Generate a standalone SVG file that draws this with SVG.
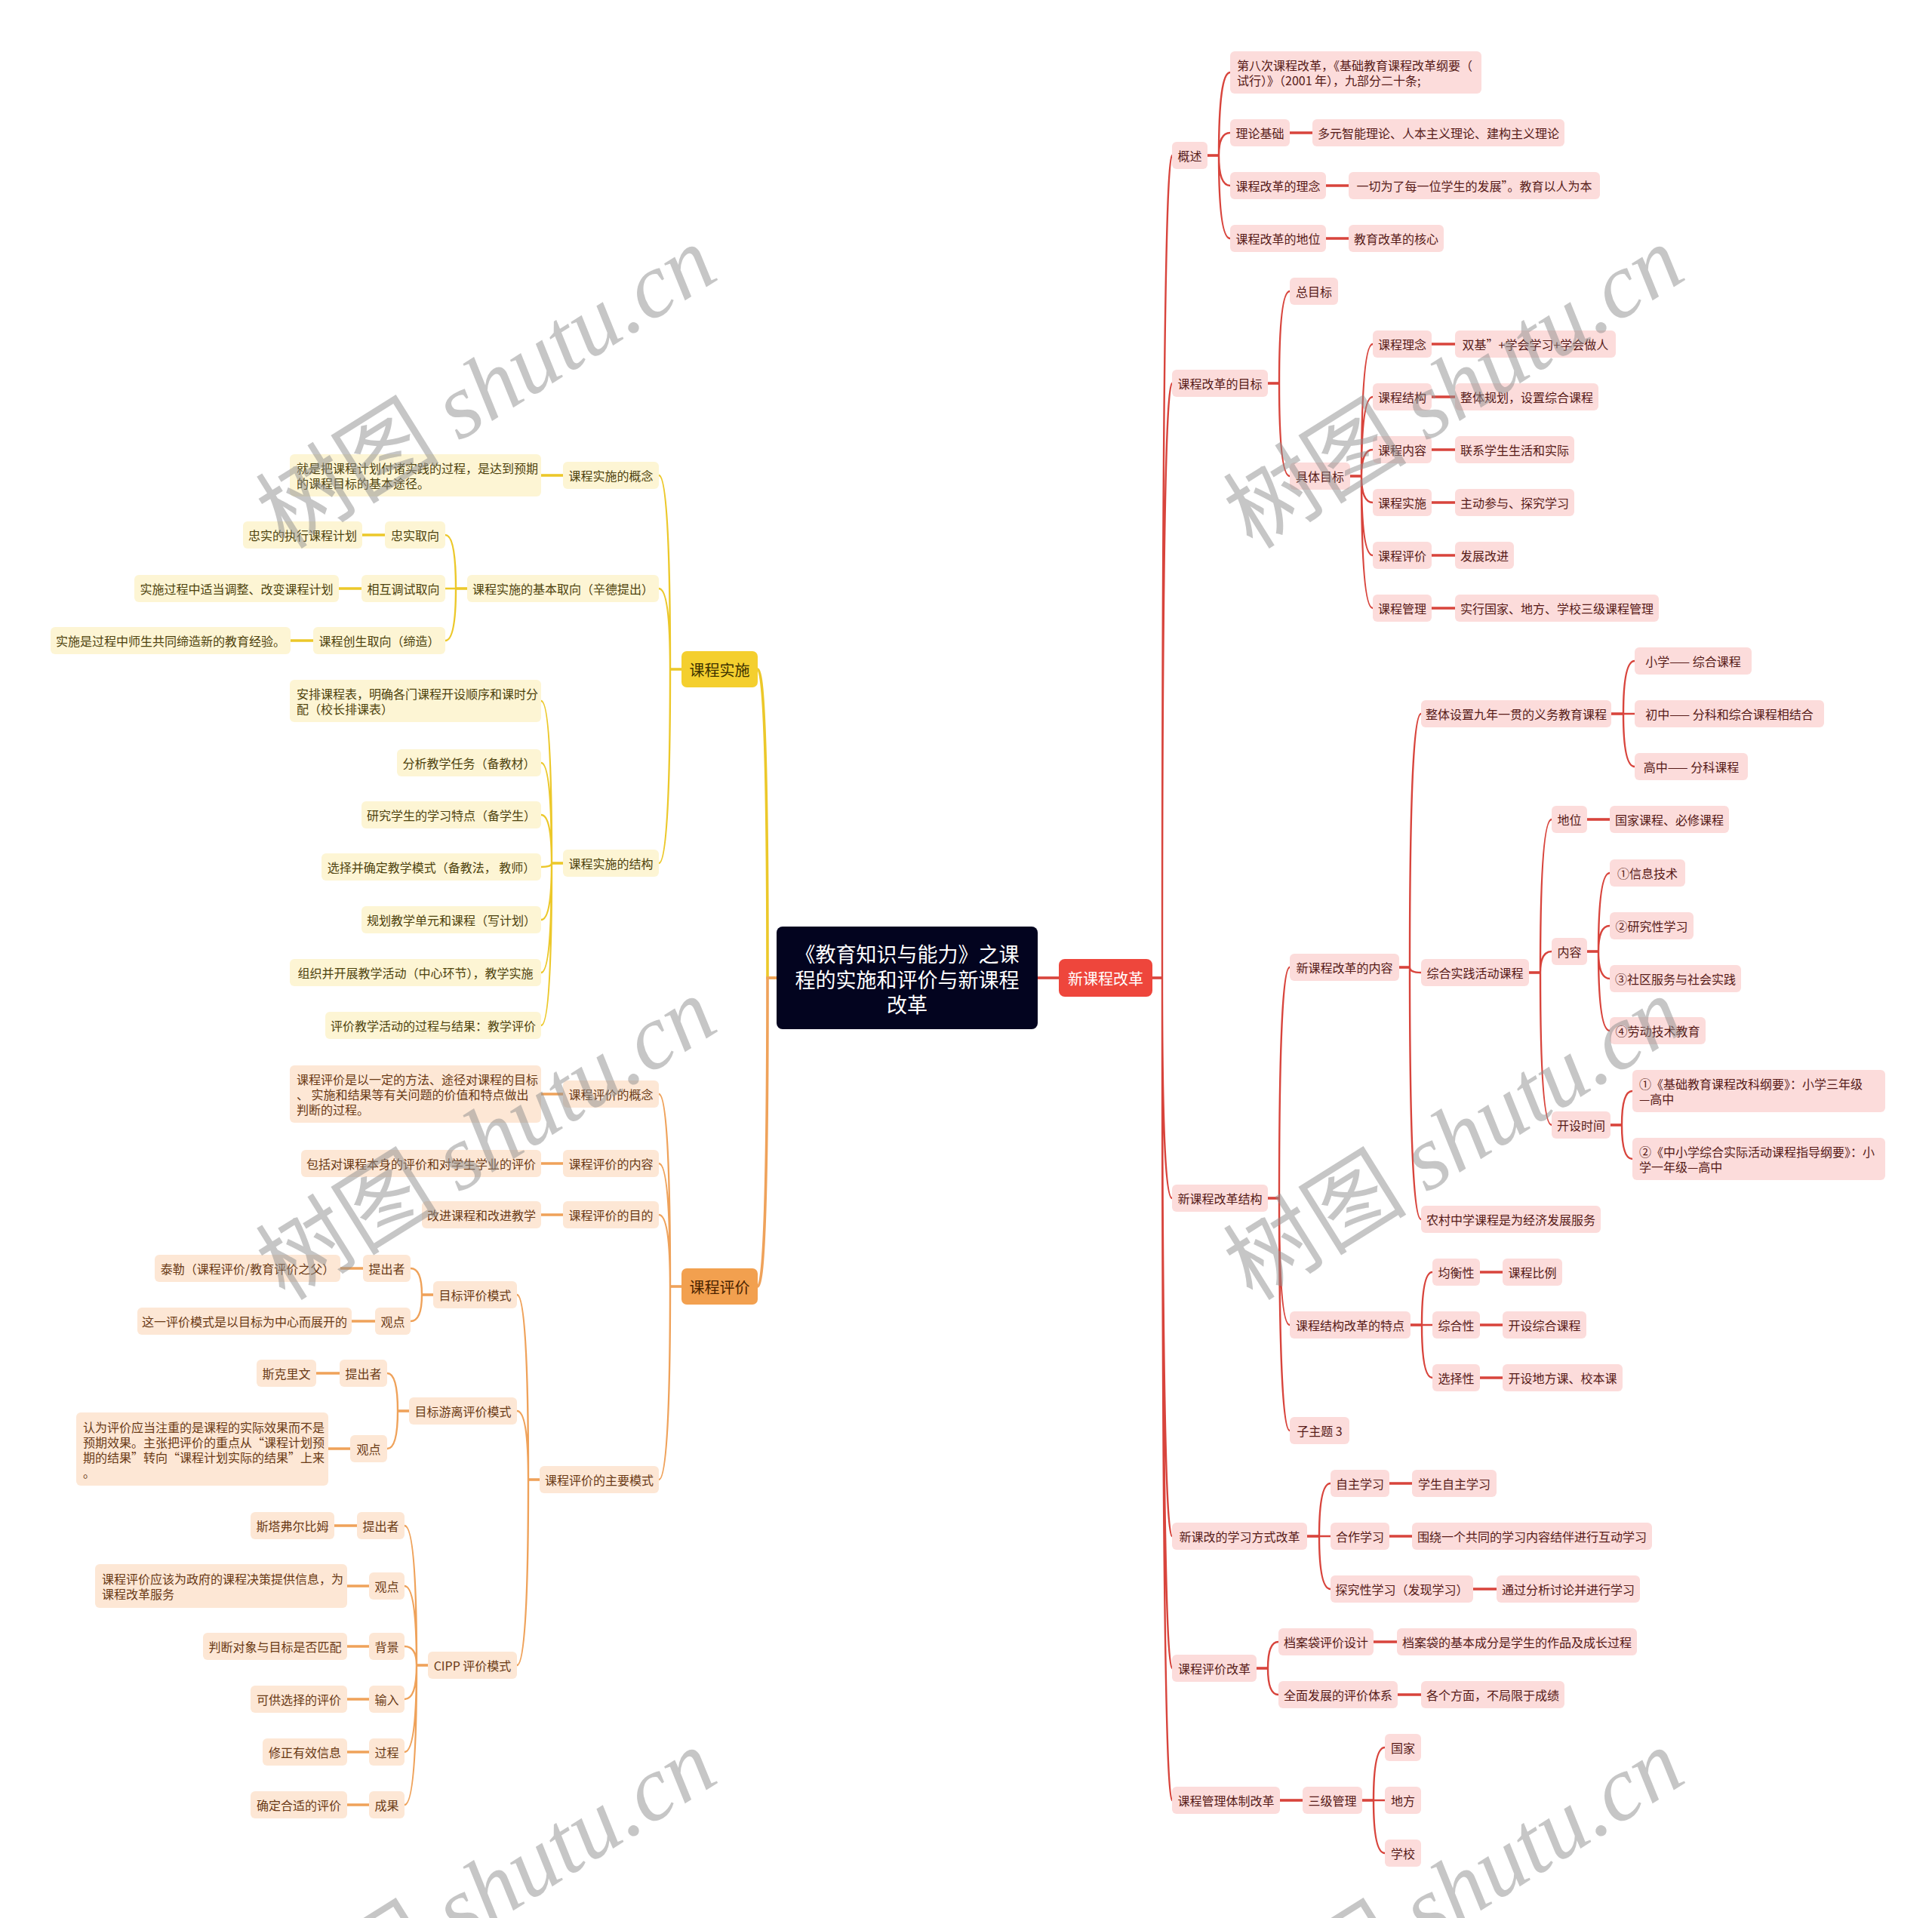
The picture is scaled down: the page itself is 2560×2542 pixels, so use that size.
<svg xmlns="http://www.w3.org/2000/svg" width="2560" height="2542" viewBox="0 0 2560 2542">
<style>
text{font-family:"Noto Sans CJK SC","Noto Sans",sans-serif;font-size:16px;dominant-baseline:central}
.c{text-anchor:middle}
.rn rect{fill:#fcdcdb}
.rn text{fill:#561a17}
.yn rect{fill:#fdf5d4}
.yn text{fill:#4d420d}
.on rect{fill:#fde7d5}
.on text{fill:#6a3a15}
.lr{fill:none;stroke:#d8443c;stroke-width:2.4}
.ly{fill:none;stroke:#ecc82a;stroke-width:2.4}
.lo{fill:none;stroke:#efa25a;stroke-width:2.4}
.th{stroke-width:3.6}
.wm{fill:#8e8e8e;fill-opacity:0.5;font-size:122px;text-anchor:middle;dominant-baseline:auto}
.wm tspan.e{font-family:"Liberation Serif",serif;font-style:italic}
</style>
<rect width="2560" height="2542" fill="#ffffff"/>

<g id="connectors">
<g class="lr">
<path class="th" d="M1375,1296H1403"/>
<path class="th" d="M1527,1296H1540"/>
<path d="M1540,1296Q1540,206 1553,206M1540,1296Q1540,508 1553,508M1540,1296Q1540,1588 1553,1588M1540,1296Q1540,2036 1553,2036M1540,1296Q1540,2211 1553,2211M1540,1296Q1540,2386 1553,2386"/>
<path class="th" d="M1600,206H1615"/>
<path d="M1615,206Q1615,96 1630,96M1615,206Q1615,176 1630,176M1615,206Q1615,246 1630,246M1615,206Q1615,316 1630,316"/>
<path class="th" d="M1709,176H1739M1757,246H1787M1757,316H1787"/>
<path class="th" d="M1680,508H1695"/>
<path d="M1695,508Q1695,386 1709,386M1695,508Q1695,631 1709,631"/>
<path class="th" d="M1789,631H1804"/>
<path d="M1804,631Q1804,456 1819,456M1804,631Q1804,526 1819,526M1804,631Q1804,596 1819,596M1804,631Q1804,666 1819,666M1804,631Q1804,736 1819,736M1804,631Q1804,806 1819,806"/>
<path class="th" d="M1897,456H1928M1897,526H1928M1897,596H1928M1897,666H1928M1897,736H1928M1897,806H1928"/>
<path class="th" d="M1680,1588H1695"/>
<path d="M1695,1588Q1695,1282 1709,1282M1695,1588Q1695,1756 1709,1756M1695,1588Q1695,1896 1709,1896"/>
<path class="th" d="M1854,1282H1868"/>
<path d="M1868,1282Q1868,946 1883,946M1868,1282Q1868,1289 1883,1289M1868,1282Q1868,1616 1883,1616"/>
<path class="th" d="M2135,946H2151"/>
<path d="M2151,946Q2151,876 2166,876M2151,946H2166M2151,946Q2151,1016 2166,1016"/>
<path class="th" d="M2026,1289H2041"/>
<path d="M2041,1289Q2041,1086 2056,1086M2041,1289Q2041,1261 2056,1261M2041,1289Q2041,1491 2056,1491"/>
<path class="th" d="M2103,1086H2133"/>
<path class="th" d="M2103,1261H2118"/>
<path d="M2118,1261Q2118,1157 2133,1157M2118,1261Q2118,1227 2133,1227M2118,1261Q2118,1297 2133,1297M2118,1261Q2118,1366 2133,1366"/>
<path class="th" d="M2134,1491H2149"/>
<path d="M2149,1491Q2149,1446 2163,1446M2149,1491Q2149,1536 2163,1536"/>
<path class="th" d="M1869,1756H1884"/>
<path d="M1884,1756Q1884,1686 1898,1686M1884,1756H1898M1884,1756Q1884,1826 1898,1826"/>
<path class="th" d="M1961,1686H1991M1961,1756H1991M1961,1826H1991"/>
<path class="th" d="M1732,2036H1748"/>
<path d="M1748,2036Q1748,1966 1763,1966M1748,2036H1763M1748,2036Q1748,2106 1763,2106"/>
<path class="th" d="M1841,1966H1871M1841,2036H1871M1952,2106H1983"/>
<path class="th" d="M1665,2211H1680"/>
<path d="M1680,2211Q1680,2176 1694,2176M1680,2211Q1680,2246 1694,2246"/>
<path class="th" d="M1820,2176H1851M1852,2246H1883"/>
<path class="th" d="M1696,2386H1726"/>
<path class="th" d="M1805,2386H1820"/>
<path d="M1820,2386Q1820,2316 1835,2316M1820,2386H1835M1820,2386Q1820,2456 1835,2456"/>
</g>
<g class="ly">
<path class="th" d="M1029,1296H1017Q1017,887 1004,887"/>
<path class="th" d="M903,887H888"/>
<path d="M888,887Q888,630 873,630M888,887Q888,780 873,780M888,887Q888,1144 873,1144"/>
<path class="th" d="M746,630H717"/>
<path class="th" d="M619,780H604"/>
<path d="M604,780Q604,709 590,709M604,780H590M604,780Q604,849 590,849"/>
<path class="th" d="M510,709H480M479,780H449M415,849H385"/>
<path class="th" d="M746,1144H731"/>
<path d="M731,1144Q731,929 717,929M731,1144Q731,1011 717,1011M731,1144Q731,1080 717,1080M731,1144Q731,1149 717,1149M731,1144Q731,1219 717,1219M731,1144Q731,1289 717,1289M731,1144Q731,1359 717,1359"/>
</g>
<g class="lo">
<path class="th" d="M1029,1296H1017Q1017,1705 1004,1705"/>
<path class="th" d="M903,1705H888"/>
<path d="M888,1705Q888,1450 873,1450M888,1705Q888,1542 873,1542M888,1705Q888,1610 873,1610M888,1705Q888,1961 873,1961"/>
<path class="th" d="M746,1450H717M746,1542H717M746,1610H717"/>
<path class="th" d="M715,1961H700"/>
<path d="M700,1961Q700,1716 685,1716M700,1961Q700,1870 685,1870M700,1961Q700,2207 685,2207"/>
<path class="th" d="M574,1716H559"/>
<path d="M559,1716Q559,1681 544,1681M559,1716Q559,1751 544,1751"/>
<path class="th" d="M481,1681H451M497,1751H466"/>
<path class="th" d="M542,1870H527"/>
<path d="M527,1870Q527,1820 513,1820M527,1870Q527,1920 513,1920"/>
<path class="th" d="M450,1820H419M464,1920H435"/>
<path class="th" d="M567,2207H552"/>
<path d="M552,2207Q552,2022 536,2022M552,2207Q552,2102 536,2102M552,2207Q552,2182 536,2182M552,2207Q552,2252 536,2252M552,2207Q552,2322 536,2322M552,2207Q552,2392 536,2392"/>
<path class="th" d="M473,2022H443M489,2102H460M489,2182H460M489,2252H460M489,2322H460M489,2392H460"/>
</g>
</g>

<g id="root"><rect x="1029" y="1228" width="346" height="136" rx="8" fill="#03041f"/>
<text class="c" x="1202" y="1263" fill="#ffffff" style="font-size:27px">《教育知识与能力》之课</text>
<text class="c" x="1202" y="1297" fill="#ffffff" style="font-size:27px">程的实施和评价与新课程</text>
<text class="c" x="1202" y="1330" fill="#ffffff" style="font-size:27px">改革</text></g>

<g id="n-xkg"><rect x="1403" y="1271" width="124" height="50" rx="8" fill="#ee463c"/><text class="c" x="1465" y="1296" fill="#ffffff" style="font-size:20px">新课程改革</text></g>
<g id="n-sshi"><rect x="903" y="863" width="101" height="48" rx="7" fill="#f4cf2e"/><text class="c" x="953.5" y="887" fill="#3d3200" style="font-size:20px">课程实施</text></g>
<g id="n-pj"><rect x="903" y="1681" width="101" height="48" rx="7" fill="#f2a04f"/><text class="c" x="953.5" y="1705" fill="#4a2300" style="font-size:20px">课程评价</text></g>

<g class="rn">
<g id="r1"><rect x="1553" y="188" width="47" height="36" rx="6"/><text class="c" x="1576.5" y="206">概述</text></g>
<g id="r1a"><rect x="1630" y="68" width="333" height="56" rx="6"/><text x="1639" y="86">第八次课程改革，《基础教育课程改革纲要（</text><text x="1639" y="106">试行）》（2001 年），九部分二十条;</text></g>
<g id="r1b"><rect x="1630" y="158" width="79" height="36" rx="6"/><text class="c" x="1669.5" y="176">理论基础</text></g>
<g id="r1b1"><rect x="1739" y="158" width="334" height="36" rx="6"/><text class="c" x="1906" y="176">多元智能理论、人本主义理论、建构主义理论</text></g>
<g id="r1c"><rect x="1630" y="228" width="127" height="36" rx="6"/><text class="c" x="1693.5" y="246">课程改革的理念</text></g>
<g id="r1c1"><rect x="1787" y="228" width="333" height="36" rx="6"/><text class="c" x="1953.5" y="246">一切为了每一位学生的发展”。教育以人为本</text></g>
<g id="r1d"><rect x="1630" y="298" width="127" height="36" rx="6"/><text class="c" x="1693.5" y="316">课程改革的地位</text></g>
<g id="r1d1"><rect x="1787" y="298" width="126" height="36" rx="6"/><text class="c" x="1850" y="316">教育改革的核心</text></g>

<g id="r2"><rect x="1553" y="490" width="127" height="36" rx="6"/><text class="c" x="1616.5" y="508">课程改革的目标</text></g>
<g id="r2a"><rect x="1709" y="368" width="64" height="36" rx="6"/><text class="c" x="1741" y="386">总目标</text></g>
<g id="r2b"><rect x="1709" y="613" width="80" height="36" rx="6"/><text class="c" x="1749" y="631">具体目标</text></g>
<g id="r2b1"><rect x="1819" y="438" width="78" height="36" rx="6"/><text class="c" x="1858" y="456">课程理念</text></g>
<g id="r2b1a"><rect x="1928" y="438" width="213" height="36" rx="6"/><text class="c" x="2034.5" y="456">双基”+学会学习+学会做人</text></g>
<g id="r2b2"><rect x="1819" y="508" width="78" height="36" rx="6"/><text class="c" x="1858" y="526">课程结构</text></g>
<g id="r2b2a"><rect x="1928" y="508" width="190" height="36" rx="6"/><text class="c" x="2023" y="526">整体规划，设置综合课程</text></g>
<g id="r2b3"><rect x="1819" y="578" width="78" height="36" rx="6"/><text class="c" x="1858" y="596">课程内容</text></g>
<g id="r2b3a"><rect x="1928" y="578" width="158" height="36" rx="6"/><text class="c" x="2007" y="596">联系学生生活和实际</text></g>
<g id="r2b4"><rect x="1819" y="648" width="78" height="36" rx="6"/><text class="c" x="1858" y="666">课程实施</text></g>
<g id="r2b4a"><rect x="1928" y="648" width="158" height="36" rx="6"/><text class="c" x="2007" y="666">主动参与、探究学习</text></g>
<g id="r2b5"><rect x="1819" y="718" width="78" height="36" rx="6"/><text class="c" x="1858" y="736">课程评价</text></g>
<g id="r2b5a"><rect x="1928" y="718" width="78" height="36" rx="6"/><text class="c" x="1967" y="736">发展改进</text></g>
<g id="r2b6"><rect x="1819" y="788" width="78" height="36" rx="6"/><text class="c" x="1858" y="806">课程管理</text></g>
<g id="r2b6a"><rect x="1928" y="788" width="270" height="36" rx="6"/><text class="c" x="2063" y="806">实行国家、地方、学校三级课程管理</text></g>

<g id="r3"><rect x="1553" y="1570" width="127" height="36" rx="6"/><text class="c" x="1616.5" y="1588">新课程改革结构</text></g>
<g id="r3a"><rect x="1709" y="1264" width="145" height="36" rx="6"/><text class="c" x="1781.5" y="1282">新课程改革的内容</text></g>
<g id="r3a1"><rect x="1883" y="928" width="252" height="36" rx="6"/><text class="c" x="2009" y="946">整体设置九年一贯的义务教育课程</text></g>
<g id="r3a1a"><rect x="2166" y="858" width="155" height="36" rx="6"/><text class="c" x="2243.5" y="876">小学—— 综合课程</text></g>
<g id="r3a1b"><rect x="2166" y="928" width="251" height="36" rx="6"/><text class="c" x="2291.5" y="946">初中—— 分科和综合课程相结合</text></g>
<g id="r3a1c"><rect x="2166" y="998" width="150" height="36" rx="6"/><text class="c" x="2241" y="1016">高中—— 分科课程</text></g>
<g id="r3a2"><rect x="1883" y="1271" width="143" height="36" rx="6"/><text class="c" x="1954.5" y="1289">综合实践活动课程</text></g>
<g id="r3a2a"><rect x="2056" y="1068" width="47" height="36" rx="6"/><text class="c" x="2079.5" y="1086">地位</text></g>
<g id="r3a2a1"><rect x="2133" y="1068" width="158" height="36" rx="6"/><text class="c" x="2212" y="1086">国家课程、必修课程</text></g>
<g id="r3a2b"><rect x="2056" y="1243" width="47" height="36" rx="6"/><text class="c" x="2079.5" y="1261">内容</text></g>
<g id="r3a2b1"><rect x="2133" y="1139" width="100" height="36" rx="6"/><text class="c" x="2183" y="1157">①信息技术</text></g>
<g id="r3a2b2"><rect x="2133" y="1209" width="111" height="36" rx="6"/><text class="c" x="2188.5" y="1227">②研究性学习</text></g>
<g id="r3a2b3"><rect x="2133" y="1279" width="174" height="36" rx="6"/><text class="c" x="2220" y="1297">③社区服务与社会实践</text></g>
<g id="r3a2b4"><rect x="2133" y="1348" width="127" height="36" rx="6"/><text class="c" x="2196.5" y="1366">④劳动技术教育</text></g>
<g id="r3a2c"><rect x="2056" y="1473" width="78" height="36" rx="6"/><text class="c" x="2095" y="1491">开设时间</text></g>
<g id="r3a2c1"><rect x="2163" y="1418" width="335" height="56" rx="6"/><text x="2172" y="1436">①《基础教育课程改科纲要》：小学三年级</text><text x="2172" y="1456">—高中</text></g>
<g id="r3a2c2"><rect x="2163" y="1508" width="335" height="56" rx="6"/><text x="2172" y="1526">②《中小学综合实际活动课程指导纲要》：小</text><text x="2172" y="1546">学一年级—高中</text></g>
<g id="r3a3"><rect x="1883" y="1598" width="238" height="36" rx="6"/><text class="c" x="2002" y="1616">农村中学课程是为经济发展服务</text></g>
<g id="r3b"><rect x="1709" y="1738" width="160" height="36" rx="6"/><text class="c" x="1789" y="1756">课程结构改革的特点</text></g>
<g id="r3b1"><rect x="1898" y="1668" width="63" height="36" rx="6"/><text class="c" x="1929.5" y="1686">均衡性</text></g>
<g id="r3b1a"><rect x="1991" y="1668" width="79" height="36" rx="6"/><text class="c" x="2030.5" y="1686">课程比例</text></g>
<g id="r3b2"><rect x="1898" y="1738" width="63" height="36" rx="6"/><text class="c" x="1929.5" y="1756">综合性</text></g>
<g id="r3b2a"><rect x="1991" y="1738" width="111" height="36" rx="6"/><text class="c" x="2046.5" y="1756">开设综合课程</text></g>
<g id="r3b3"><rect x="1898" y="1808" width="63" height="36" rx="6"/><text class="c" x="1929.5" y="1826">选择性</text></g>
<g id="r3b3a"><rect x="1991" y="1808" width="159" height="36" rx="6"/><text class="c" x="2070.5" y="1826">开设地方课、校本课</text></g>
<g id="r3c"><rect x="1709" y="1878" width="79" height="36" rx="6"/><text class="c" x="1748.5" y="1896">子主题 3</text></g>

<g id="r4"><rect x="1553" y="2018" width="179" height="36" rx="6"/><text class="c" x="1642.5" y="2036">新课改的学习方式改革</text></g>
<g id="r4a"><rect x="1763" y="1948" width="78" height="36" rx="6"/><text class="c" x="1802" y="1966">自主学习</text></g>
<g id="r4a1"><rect x="1871" y="1948" width="112" height="36" rx="6"/><text class="c" x="1927" y="1966">学生自主学习</text></g>
<g id="r4b"><rect x="1763" y="2018" width="78" height="36" rx="6"/><text class="c" x="1802" y="2036">合作学习</text></g>
<g id="r4b1"><rect x="1871" y="2018" width="318" height="36" rx="6"/><text class="c" x="2030" y="2036">围绕一个共同的学习内容结伴进行互动学习</text></g>
<g id="r4c"><rect x="1763" y="2088" width="189" height="36" rx="6"/><text class="c" x="1857.5" y="2106">探究性学习（发现学习）</text></g>
<g id="r4c1"><rect x="1983" y="2088" width="190" height="36" rx="6"/><text class="c" x="2078" y="2106">通过分析讨论并进行学习</text></g>

<g id="r5"><rect x="1553" y="2193" width="112" height="36" rx="6"/><text class="c" x="1609" y="2211">课程评价改革</text></g>
<g id="r5a"><rect x="1694" y="2158" width="126" height="36" rx="6"/><text class="c" x="1757" y="2176">档案袋评价设计</text></g>
<g id="r5a1"><rect x="1851" y="2158" width="318" height="36" rx="6"/><text class="c" x="2010" y="2176">档案袋的基本成分是学生的作品及成长过程</text></g>
<g id="r5b"><rect x="1694" y="2228" width="158" height="36" rx="6"/><text class="c" x="1773" y="2246">全面发展的评价体系</text></g>
<g id="r5b1"><rect x="1883" y="2228" width="190" height="36" rx="6"/><text class="c" x="1978" y="2246">各个方面，不局限于成绩</text></g>

<g id="r6"><rect x="1553" y="2368" width="143" height="36" rx="6"/><text class="c" x="1624.5" y="2386">课程管理体制改革</text></g>
<g id="r6a"><rect x="1726" y="2368" width="79" height="36" rx="6"/><text class="c" x="1765.5" y="2386">三级管理</text></g>
<g id="r6a1"><rect x="1835" y="2298" width="48" height="36" rx="6"/><text class="c" x="1859" y="2316">国家</text></g>
<g id="r6a2"><rect x="1835" y="2368" width="48" height="36" rx="6"/><text class="c" x="1859" y="2386">地方</text></g>
<g id="r6a3"><rect x="1835" y="2438" width="48" height="36" rx="6"/><text class="c" x="1859" y="2456">学校</text></g>
</g>

<g class="yn">
<g id="y1"><rect x="746" y="612" width="127" height="36" rx="6"/><text class="c" x="809.5" y="630">课程实施的概念</text></g>
<g id="y1a"><rect x="384" y="602" width="333" height="56" rx="6"/><text x="393" y="620">就是把课程计划付诸实践的过程，是达到预期</text><text x="393" y="640">的课程目标的基本途径。</text></g>
<g id="y2"><rect x="619" y="762" width="254" height="36" rx="6"/><text class="c" x="746" y="780">课程实施的基本取向（辛德提出）</text></g>
<g id="y2a"><rect x="510" y="691" width="80" height="36" rx="6"/><text class="c" x="550" y="709">忠实取向</text></g>
<g id="y2a1"><rect x="322" y="691" width="158" height="36" rx="6"/><text class="c" x="401" y="709">忠实的执行课程计划</text></g>
<g id="y2b"><rect x="479" y="762" width="111" height="36" rx="6"/><text class="c" x="534.5" y="780">相互调试取向</text></g>
<g id="y2b1"><rect x="178" y="762" width="271" height="36" rx="6"/><text class="c" x="313.5" y="780">实施过程中适当调整、改变课程计划</text></g>
<g id="y2c"><rect x="415" y="831" width="175" height="36" rx="6"/><text class="c" x="502.5" y="849">课程创生取向（缔造）</text></g>
<g id="y2c1"><rect x="67" y="831" width="318" height="36" rx="6"/><text class="c" x="226" y="849">实施是过程中师生共同缔造新的教育经验。</text></g>
<g id="y3"><rect x="746" y="1126" width="127" height="36" rx="6"/><text class="c" x="809.5" y="1144">课程实施的结构</text></g>
<g id="y3a"><rect x="384" y="901" width="333" height="56" rx="6"/><text x="393" y="919">安排课程表，明确各门课程开设顺序和课时分</text><text x="393" y="939">配（校长排课表）</text></g>
<g id="y3b"><rect x="526" y="993" width="191" height="36" rx="6"/><text class="c" x="621.5" y="1011">分析教学任务（备教材）</text></g>
<g id="y3c"><rect x="479" y="1062" width="238" height="36" rx="6"/><text class="c" x="598" y="1080">研究学生的学习特点（备学生）</text></g>
<g id="y3d"><rect x="426" y="1131" width="291" height="36" rx="6"/><text class="c" x="571.5" y="1149">选择并确定教学模式（备教法， 教师）</text></g>
<g id="y3e"><rect x="479" y="1201" width="238" height="36" rx="6"/><text class="c" x="598" y="1219">规划教学单元和课程（写计划）</text></g>
<g id="y3f"><rect x="384" y="1271" width="333" height="36" rx="6"/><text class="c" x="550.5" y="1289">组织并开展教学活动（中心环节），教学实施</text></g>
<g id="y3g"><rect x="431" y="1341" width="286" height="36" rx="6"/><text class="c" x="574" y="1359">评价教学活动的过程与结果：教学评价</text></g>
</g>

<g class="on">
<g id="o1"><rect x="746" y="1432" width="127" height="36" rx="6"/><text class="c" x="809.5" y="1450">课程评价的概念</text></g>
<g id="o1a"><rect x="384" y="1412" width="333" height="76" rx="6"/><text x="393" y="1430">课程评价是以一定的方法、途径对课程的目标</text><text x="393" y="1450">、 实施和结果等有关问题的价值和特点做出</text><text x="393" y="1470">判断的过程。</text></g>
<g id="o2"><rect x="746" y="1524" width="127" height="36" rx="6"/><text class="c" x="809.5" y="1542">课程评价的内容</text></g>
<g id="o2a"><rect x="399" y="1524" width="318" height="36" rx="6"/><text class="c" x="558" y="1542">包括对课程本身的评价和对学生学业的评价</text></g>
<g id="o3"><rect x="746" y="1592" width="127" height="36" rx="6"/><text class="c" x="809.5" y="1610">课程评价的目的</text></g>
<g id="o3a"><rect x="559" y="1592" width="158" height="36" rx="6"/><text class="c" x="638" y="1610">改进课程和改进教学</text></g>
<g id="o4"><rect x="715" y="1943" width="158" height="36" rx="6"/><text class="c" x="794" y="1961">课程评价的主要模式</text></g>
<g id="o4a"><rect x="574" y="1698" width="111" height="36" rx="6"/><text class="c" x="629.5" y="1716">目标评价模式</text></g>
<g id="o4a1"><rect x="481" y="1663" width="63" height="36" rx="6"/><text class="c" x="512.5" y="1681">提出者</text></g>
<g id="o4a1a"><rect x="205" y="1663" width="246" height="36" rx="6"/><text class="c" x="328" y="1681">泰勒（课程评价/教育评价之父）</text></g>
<g id="o4a2"><rect x="497" y="1733" width="47" height="36" rx="6"/><text class="c" x="520.5" y="1751">观点</text></g>
<g id="o4a2a"><rect x="182" y="1733" width="284" height="36" rx="6"/><text class="c" x="324" y="1751">这一评价模式是以目标为中心而展开的</text></g>
<g id="o4b"><rect x="542" y="1852" width="143" height="36" rx="6"/><text class="c" x="613.5" y="1870">目标游离评价模式</text></g>
<g id="o4b1"><rect x="450" y="1802" width="63" height="36" rx="6"/><text class="c" x="481.5" y="1820">提出者</text></g>
<g id="o4b1a"><rect x="340" y="1802" width="79" height="36" rx="6"/><text class="c" x="379.5" y="1820">斯克里文</text></g>
<g id="o4b2"><rect x="464" y="1902" width="49" height="36" rx="6"/><text class="c" x="488.5" y="1920">观点</text></g>
<g id="o4b2a"><rect x="101" y="1872" width="334" height="97" rx="6"/><text x="110" y="1891">认为评价应当注重的是课程的实际效果而不是</text><text x="110" y="1911">预期效果。主张把评价的重点从“课程计划预</text><text x="110" y="1931">期的结果”转向“课程计划实际的结果”上来</text><text x="110" y="1951">。</text></g>
<g id="o4c"><rect x="567" y="2189" width="118" height="36" rx="6"/><text class="c" x="626" y="2207">CIPP 评价模式</text></g>
<g id="o4c1"><rect x="473" y="2004" width="63" height="36" rx="6"/><text class="c" x="504.5" y="2022">提出者</text></g>
<g id="o4c1a"><rect x="332" y="2004" width="111" height="36" rx="6"/><text class="c" x="387.5" y="2022">斯塔弗尔比姆</text></g>
<g id="o4c2"><rect x="489" y="2084" width="47" height="36" rx="6"/><text class="c" x="512.5" y="2102">观点</text></g>
<g id="o4c2a"><rect x="126" y="2073" width="334" height="58" rx="6"/><text x="135" y="2092">课程评价应该为政府的课程决策提供信息，为</text><text x="135" y="2112">课程改革服务</text></g>
<g id="o4c3"><rect x="489" y="2164" width="47" height="36" rx="6"/><text class="c" x="512.5" y="2182">背景</text></g>
<g id="o4c3a"><rect x="269" y="2164" width="191" height="36" rx="6"/><text class="c" x="364.5" y="2182">判断对象与目标是否匹配</text></g>
<g id="o4c4"><rect x="489" y="2234" width="47" height="36" rx="6"/><text class="c" x="512.5" y="2252">输入</text></g>
<g id="o4c4a"><rect x="332" y="2234" width="128" height="36" rx="6"/><text class="c" x="396" y="2252">可供选择的评价</text></g>
<g id="o4c5"><rect x="489" y="2304" width="47" height="36" rx="6"/><text class="c" x="512.5" y="2322">过程</text></g>
<g id="o4c5a"><rect x="348" y="2304" width="112" height="36" rx="6"/><text class="c" x="404" y="2322">修正有效信息</text></g>
<g id="o4c6"><rect x="489" y="2374" width="47" height="36" rx="6"/><text class="c" x="512.5" y="2392">成果</text></g>
<g id="o4c6a"><rect x="332" y="2374" width="128" height="36" rx="6"/><text class="c" x="396" y="2392">确定合适的评价</text></g>
</g>

<g id="watermark">
<text class="wm" x="645" y="555" transform="rotate(-32 645 514)">树图 <tspan class="e">shutu.cn</tspan></text>
<text class="wm" x="1927" y="555" transform="rotate(-32 1927 514)">树图 <tspan class="e">shutu.cn</tspan></text>
<text class="wm" x="645" y="1551" transform="rotate(-32 645 1510)">树图 <tspan class="e">shutu.cn</tspan></text>
<text class="wm" x="1927" y="1551" transform="rotate(-32 1927 1510)">树图 <tspan class="e">shutu.cn</tspan></text>
<text class="wm" x="645" y="2547" transform="rotate(-32 645 2506)">树图 <tspan class="e">shutu.cn</tspan></text>
<text class="wm" x="1927" y="2547" transform="rotate(-32 1927 2506)">树图 <tspan class="e">shutu.cn</tspan></text>
</g>
</svg>
